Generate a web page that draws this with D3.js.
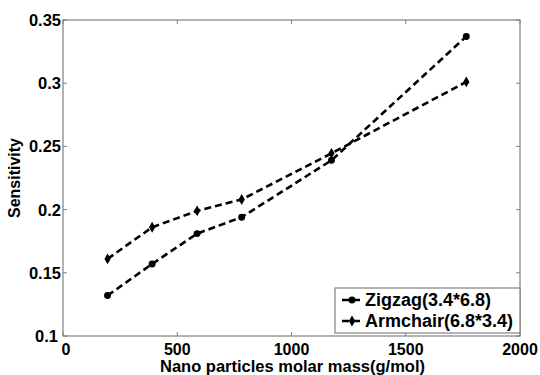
<!DOCTYPE html>
<html>
<head>
<meta charset="utf-8">
<script src="https://cdn.jsdelivr.net/npm/d3@7"></script>
<style>
  body { margin: 0; background: #fff; }
  text { font-family: "Liberation Sans", Arial, sans-serif; font-weight: bold; }
</style>
</head>
<body>
<div id="chart"></div>
<script>
// molar mass (g/mol)
const massValues = [195, 390, 587, 782, 1175, 1765];
const zigzag = [0.132, 0.157, 0.181, 0.194, 0.239, 0.337];
const armchair = [0.161, 0.186, 0.199, 0.208, 0.2445, 0.301];
const seriesNames = ["Zigzag(3.4*6.8)", "Armchair(6.8*3.4)"];
const xTicks = [0, 500, 1000, 1500, 2000];
const yTicks = [0.1, 0.15, 0.2, 0.25, 0.3, 0.35];

function draw() {
    var margin = {top: 20, right: 20, bottom: 39, left: 63},
        width = 540 - margin.left - margin.right,
        height = 375 - margin.top - margin.bottom;

    var svg = d3.select("#chart")
        .append("svg")
        .attr("width", 540)
        .attr("height", 375)
        .append("g")
        .attr("transform", "translate(" + margin.left + "," + margin.top + ")");

    var x = d3.scaleLinear().domain([0, 2000]).range([0, width]);
    var y = d3.scaleLinear().domain([0.1, 0.35]).range([height, 0]);

    // box
    svg.append("rect")
        .attr("width", width).attr("height", height)
        .attr("fill", "none").attr("stroke", "#808080").attr("stroke-width", 1.2);

    // inward ticks, all four sides
    var tickLen = 4;
    xTicks.forEach(function (t) {
        svg.append("line").attr("x1", x(t)).attr("x2", x(t))
            .attr("y1", height).attr("y2", height - tickLen).attr("stroke", "#808080");
        svg.append("line").attr("x1", x(t)).attr("x2", x(t))
            .attr("y1", 0).attr("y2", tickLen).attr("stroke", "#808080");
        svg.append("text")
            .attr("x", t === 0 ? x(t) + 3 : x(t)).attr("y", height + 19)
            .attr("text-anchor", "middle").attr("font-size", 16)
            .text(t);
    });
    yTicks.forEach(function (t) {
        svg.append("line").attr("x1", 0).attr("x2", tickLen)
            .attr("y1", y(t)).attr("y2", y(t)).attr("stroke", "#808080");
        svg.append("line").attr("x1", width).attr("x2", width - tickLen)
            .attr("y1", y(t)).attr("y2", y(t)).attr("stroke", "#808080");
        svg.append("text")
            .attr("x", t === 0.1 ? -5 : -2).attr("y", y(t) + 6)
            .attr("text-anchor", "end").attr("font-size", 16.5)
            .text(t);
    });

    // axis labels
    svg.append("text")
        .attr("x", x(1000) + 1).attr("y", height + 36)
        .attr("text-anchor", "middle").attr("font-size", 16.5)
        .text("Nano particles molar mass(g/mol)");
    svg.append("text")
        .attr("transform", "translate(" + (-43) + "," + (height / 2) + ")rotate(-90)")
        .attr("text-anchor", "middle").attr("font-size", 16)
        .text("Sensitivity");

    var line = d3.line()
        .x(function (d) { return x(d.x); })
        .y(function (d) { return y(d.y); });

    var series = [
        {name: seriesNames[0], values: zigzag, marker: d3.symbolCircle, size: 38},
        {name: seriesNames[1], values: armchair, marker: d3.symbolDiamond, size: 34}
    ];

    series.forEach(function (s) {
        var pts = massValues.map(function (m, i) { return {x: m, y: s.values[i]}; });
        svg.append("path")
            .datum(pts)
            .attr("fill", "none")
            .attr("stroke", "black")
            .attr("stroke-width", 2.6)
            .style("stroke-dasharray", "7,4")
            .attr("d", line);
        svg.selectAll(null)
            .data(pts)
            .enter()
            .append("path")
            .attr("transform", function (d) { return "translate(" + x(d.x) + "," + y(d.y) + ")"; })
            .attr("d", d3.symbol().type(s.marker).size(s.size))
            .attr("fill", "black");
    });

    // legend
    var lg = svg.append("g").attr("transform", "translate(" + (width - 185) + "," + (height - 48) + ")");
    lg.append("rect")
        .attr("width", 185).attr("height", 45)
        .attr("fill", "white").attr("stroke", "#808080").attr("stroke-width", 1.2);
    series.forEach(function (s, i) {
        var cy = 12 + i * 21;
        lg.append("line").attr("x1", 7).attr("x2", 27).attr("y1", cy).attr("y2", cy)
            .attr("stroke", "black").attr("stroke-width", 2.6)
            .style("stroke-dasharray", "7,4");
        lg.append("path")
            .attr("transform", "translate(17," + cy + ")")
            .attr("d", d3.symbol().type(s.marker).size(s.size))
            .attr("fill", "black");
        lg.append("text")
            .attr("x", 30).attr("y", cy + 6)
            .attr("font-size", 18)
            .text(s.name);
    });
}
draw();
</script>
</body>
</html>
